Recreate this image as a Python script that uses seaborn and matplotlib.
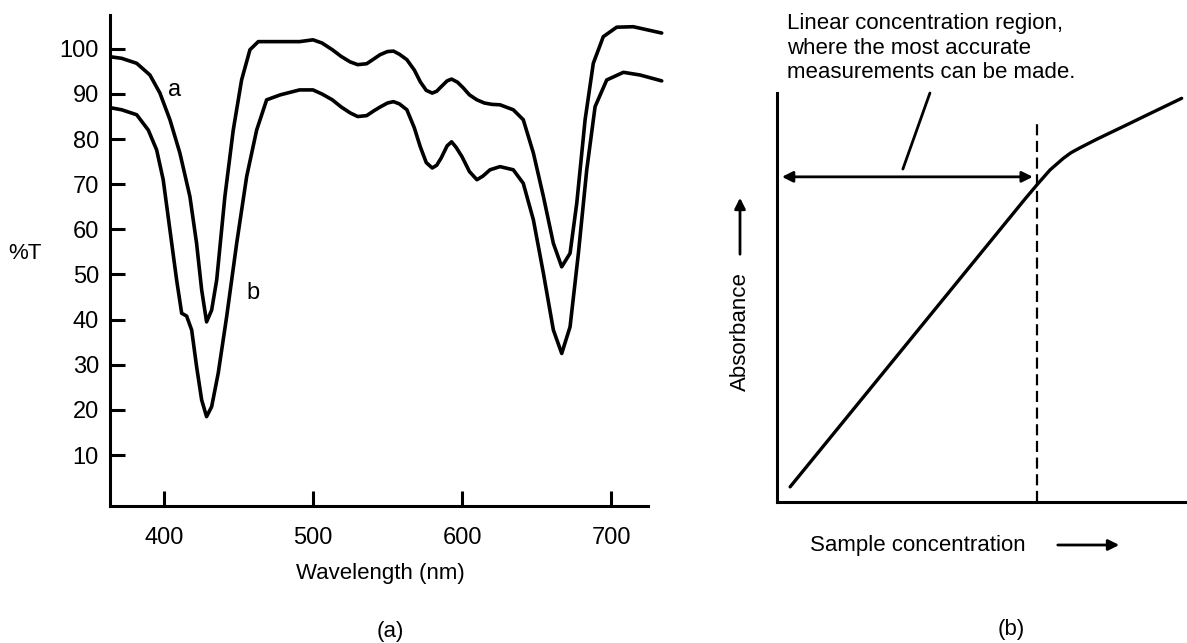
import numpy as np
import pandas as pd
import matplotlib
matplotlib.use('Agg')
import matplotlib.pyplot as plt
import seaborn as sns

# panel (a): transmission spectra
wavelength_a = [365, 371.6, 381.7, 390.6, 397.3, 404, 410.7, 417.4, 421.9, 425.3,
                428.6, 432, 435.4, 440.9, 446.5, 452.1, 457.7, 463.3, 468.9, 478,
                491, 500, 506, 513, 519, 525, 530, 536, 541, 545, 550, 554, 558,
                563, 568, 572, 576, 580, 583, 586, 590, 593, 597, 600.7, 605, 610,
                615, 620, 625.5, 634.4, 641.1, 647.9, 654.6, 661.3, 666.9, 672.5,
                677, 682.6, 688.1, 694.8, 703.8, 715, 734]
trans_a = [98.2, 97.9, 96.8, 94.2, 90.2, 84.3, 76.9, 67.3, 56.9, 46.6,
           39.5, 42.1, 48.8, 67.3, 82, 93.1, 99.8, 101.6, 101.6, 101.6,
           101.6, 102, 101.3, 99.8, 98.3, 97.1, 96.5, 96.7, 97.8, 98.7, 99.4, 99.5, 98.8,
           97.6, 95.3, 92.7, 90.8, 90.2, 90.6, 91.6, 92.9, 93.3, 92.6, 91.4, 89.8, 88.7,
           88, 87.7, 87.6, 86.5, 84.3, 76.9, 67.3, 56.9, 51.7, 54.7,
           65.8, 84.3, 96.8, 102.7, 104.8, 104.9, 103.5]

wavelength_b = [365, 371.6, 381.7, 389.5, 395.1, 399.5, 404, 408.5, 411.9, 415.2,
                418.6, 421.9, 425.3, 428.6, 432, 436.4, 442.1, 448.8, 455.5, 462.2,
                468.9, 478, 491, 500, 506, 513, 519, 525, 530, 536, 541, 545, 550,
                554, 558, 563, 568, 572, 576, 580, 583, 586, 590, 593, 596, 600,
                605, 610, 614, 618.8, 625.5, 634.4, 641.1, 647.9, 654.6, 661.3,
                666.9, 672.5, 678.1, 683.7, 689.3, 697.1, 708.3, 719.5, 734]
trans_b = [86.9, 86.5, 85.4, 82, 77.6, 71, 59.9, 48.8, 41.4, 40.8,
           37.7, 29.6, 22.2, 18.5, 20.7, 28.1, 40.7, 56.9, 71.7, 82,
           88.7, 89.8, 90.9, 90.9, 90, 88.7, 87.1, 85.8, 85, 85.2, 86.3, 87.1, 88,
           88.3, 87.8, 86.5, 82.5, 78.3, 74.8, 73.6, 74.2, 75.8, 78.5, 79.4, 78.2, 76.1,
           72.8, 71, 71.8, 73.2, 73.9, 73.2, 70.2, 62.1, 50.3, 37.7,
           32.5, 38.4, 54.7, 73.2, 87.2, 93.1, 94.8, 94.2, 92.9]

x_ticks = [400, 500, 600, 700]
y_ticks = [10, 20, 30, 40, 50, 60, 70, 80, 90, 100]

# panel (b): absorbance vs concentration (arbitrary units 0-10)
conc = [0.32, 6.05, 6.37, 6.66, 6.98, 7.17, 7.39, 7.8, 8.61, 9.02, 9.87]
absorb = [0.37, 7.41, 7.79, 8.12, 8.40, 8.54, 8.66, 8.87, 9.26, 9.46, 9.87]
linear_limit = 6.34
region_arrow_y = 7.95
region_arrow_x = [0.12, 6.24]
leader_x = [3.07, 3.73]
leader_y = [8.14, 10.0]

sns.set_style('ticks')
plt.rcParams['font.family'] = ['Liberation Sans', 'DejaVu Sans']
plt.rcParams.update({'text.color': 'black', 'axes.edgecolor': 'black',
                     'xtick.color': 'black', 'ytick.color': 'black'})

W, H = 1187, 643
fig = plt.figure(figsize=(W / 100, H / 100), dpi=100)

def frac(x0, y0, x1, y1):
    # pixel box -> figure fraction rect
    return [x0 / W, 1 - y1 / H, (x1 - x0) / W, (y1 - y0) / H]

# ---- panel (a)
ax1 = fig.add_axes(frac(110, 15, 648, 506))
sns.lineplot(x=wavelength_a, y=trans_a, ax=ax1, color='black', lw=2.6, estimator=None)
sns.lineplot(x=wavelength_b, y=trans_b, ax=ax1, color='black', lw=2.6, estimator=None)
for ln in ax1.lines:
    ln.set_clip_on(False)
    ln.set_solid_joinstyle('round')
    ln.set_solid_capstyle('round')
ax1.set_xlim(363.8, 724.8)
ax1.set_ylim(-1.3, 107.5)
ax1.set_xticks(x_ticks)
ax1.set_yticks(y_ticks)
sns.despine(ax=ax1)
for s in ['left', 'bottom']:
    ax1.spines[s].set_linewidth(2.2)
ax1.tick_params(axis='both', direction='in', length=11, width=2.2, labelsize=17)
ax1.tick_params(axis='y', pad=8)
ax1.tick_params(axis='x', pad=15)
ax1.text(407.4, 90.9, 'a', fontsize=17, ha='center', va='center')
ax1.text(460, 45.8, 'b', fontsize=17, ha='center', va='center')

fig.text(25 / W, 1 - 253 / H, '%T', fontsize=16, ha='center', va='center')
fig.text(380 / W, 1 - 573 / H, 'Wavelength (nm)', fontsize=16, ha='center', va='center')
fig.text(390 / W, 1 - 632 / H, '(a)', fontsize=16, ha='center', va='center')

# ---- panel (b)
ax2 = fig.add_axes(frac(777, 93, 1187, 502))
sns.lineplot(x=conc, y=absorb, ax=ax2, color='black', lw=2.4, estimator=None)
ax2.lines[0].set_clip_on(False)
ax2.lines[0].set_solid_joinstyle('round')
ax2.set_xlim(0, 10)
ax2.set_ylim(0, 10)
ax2.set_xticks([])
ax2.set_yticks([])
sns.despine(ax=ax2)
for s in ['left', 'bottom']:
    ax2.spines[s].set_linewidth(2.2)
ax2.plot([linear_limit, linear_limit], [0, 9.34], color='black', lw=1.6,
         linestyle=(0, (5, 2.5)), clip_on=False)
ax2.annotate('', xy=(region_arrow_x[0], region_arrow_y), xytext=(region_arrow_x[1], region_arrow_y),
             arrowprops=dict(arrowstyle='<|-|>', color='black', lw=2, mutation_scale=16,
                             shrinkA=0, shrinkB=0))
ax2.plot(leader_x, leader_y, color='black', lw=2, clip_on=False)

fig.text(787 / W, 1 - 48 / H,
         'Linear concentration region,\nwhere the most accurate\nmeasurements can be made.',
         fontsize=16, ha='left', va='center', linespacing=1.2)
fig.text(740 / W, 1 - 332 / H, 'Absorbance', fontsize=16, rotation=90, ha='center', va='center')
fig.add_artist(matplotlib.patches.FancyArrowPatch((740 / W, 1 - 257 / H), (740 / W, 1 - 195 / H),
               transform=fig.transFigure, arrowstyle='-|>', mutation_scale=16, lw=2, color='black'))
fig.text(810 / W, 1 - 545 / H, 'Sample concentration', fontsize=16, ha='left', va='center')
fig.add_artist(matplotlib.patches.FancyArrowPatch((1055 / W, 1 - 545 / H), (1122 / W, 1 - 545 / H),
               transform=fig.transFigure, arrowstyle='-|>', mutation_scale=16, lw=2, color='black'))
fig.text(1011 / W, 1 - 630 / H, '(b)', fontsize=16, ha='center', va='center')

fig.savefig('out.png', dpi=100)
